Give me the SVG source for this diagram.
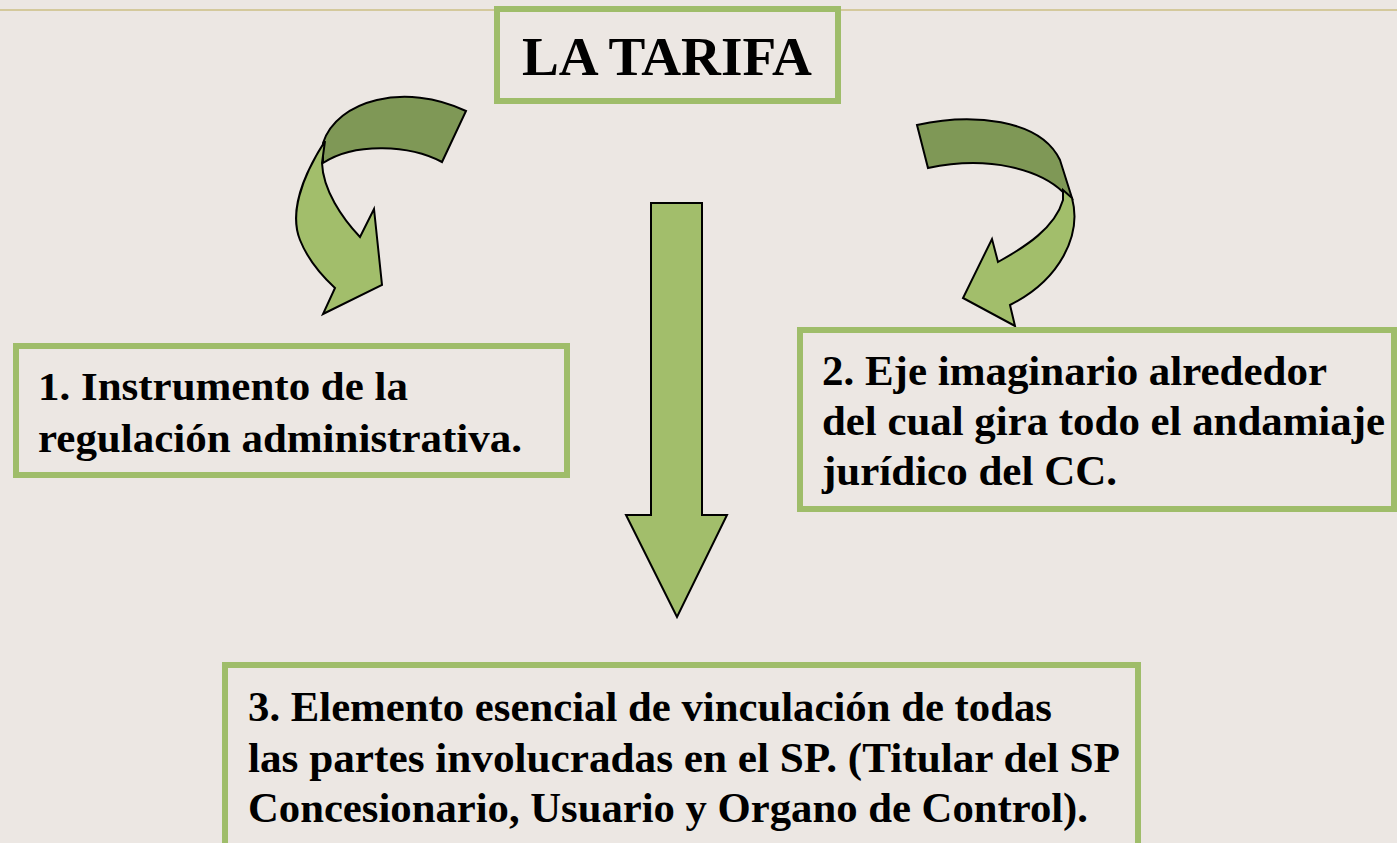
<svg xmlns="http://www.w3.org/2000/svg" width="1397" height="843" viewBox="0 0 1397 843">
<style>
.box{fill:none;stroke:#9fbd6a;stroke-width:6}
.t{font-family:"Liberation Serif","Times New Roman",serif;font-weight:bold;fill:#000}
.lt{fill:#a2be6b;stroke:#000;stroke-width:2;stroke-linejoin:miter}
.dk{fill:#7f9856;stroke:#000;stroke-width:2}
</style>
<rect width="1397" height="843" fill="#ece7e3"/>
<line x1="0" y1="10" x2="1397" y2="10" stroke="#cdbf85" stroke-width="1.5"/>
<g id="connectors">
  <g id="arrow-left">
    <path class="dk" d="M323,143 C337,100 405,82 466,111 L442,162 C410,145 355,142 323,163 Z"/>
    <path class="lt" d="M325,141 C300,180 290,215 300,240 C308,260 322,276 335,288 L323,314 L382,285 L374,209 L360,237 C342,218 323,190 322,163 Z"/>
  </g>
  <g id="arrow-right">
    <path class="dk" d="M917,125 C970,113 1040,118 1060,160 L1072,198 L1063,192 C1040,170 990,155 928,168 Z"/>
    <path class="lt" d="M1063,190 L1072,198 C1082,235 1060,280 1010,305 L1015,326 L963,298 L992,239 L998,262 C1025,247 1055,228 1063,200 Z"/>
  </g>
  <path id="arrow-down" class="lt" d="M651,203 L702,203 L702,515 L727,515 L677,617 L626,515 L651,515 Z"/>
</g>
<g id="title">
  <rect class="box" x="497" y="9" width="341" height="92"/>
  <text class="t" x="522" y="75" font-size="55" textLength="290" lengthAdjust="spacingAndGlyphs">LA TARIFA</text>
</g>
<g id="node1">
  <rect class="box" x="16" y="346" width="551" height="129"/>
  <text class="t" font-size="41" x="38" y="400" textLength="370" lengthAdjust="spacingAndGlyphs">1. Instrumento de la</text>
  <text class="t" font-size="41" x="38" y="452" textLength="484" lengthAdjust="spacingAndGlyphs">regulación administrativa.</text>
</g>
<g id="node2">
  <rect class="box" x="800" y="330" width="594" height="179"/>
  <text class="t" font-size="42" x="822" y="385" textLength="505" lengthAdjust="spacingAndGlyphs">2. Eje imaginario alrededor</text>
  <text class="t" font-size="42" x="822" y="435" textLength="563" lengthAdjust="spacingAndGlyphs">del cual gira todo el andamiaje</text>
  <text class="t" font-size="42" x="822" y="485" textLength="295" lengthAdjust="spacingAndGlyphs">jurídico del CC.</text>
</g>
<g id="node3">
  <rect class="box" x="225" y="665" width="913" height="200"/>
  <text class="t" font-size="42" x="248" y="721" textLength="804" lengthAdjust="spacingAndGlyphs">3. Elemento esencial de vinculación de todas</text>
  <text class="t" font-size="42" x="248" y="772" textLength="872" lengthAdjust="spacingAndGlyphs">las partes involucradas en el SP. (Titular del SP</text>
  <text class="t" font-size="42" x="248" y="822" textLength="840" lengthAdjust="spacingAndGlyphs">Concesionario, Usuario y Organo de Control).</text>
</g>
</svg>
